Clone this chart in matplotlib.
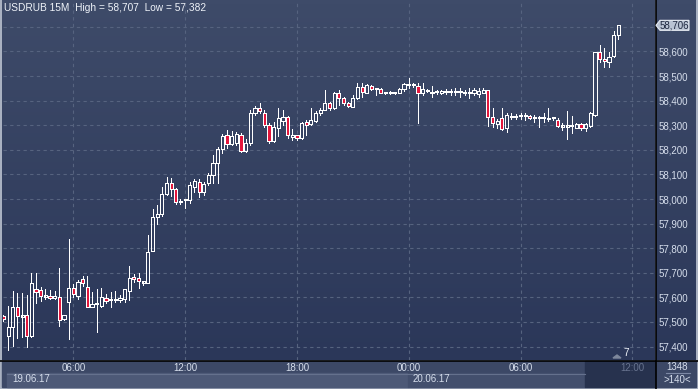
import matplotlib.pyplot as plt
import numpy as np
from matplotlib.patches import Rectangle, Polygon
from matplotlib.transforms import blended_transform_factory

plt.rcParams['font.family'] = ['Liberation Sans', 'DejaVu Sans']

titulo = 'USDRUB 15M  High = 58,707  Low = 57,382'

# velas de 15 minutos, desde 19.06.17 02:15 hasta 20.06.17 11:15
opens = [57.525, 57.444, 57.481, 57.560, 57.522, 57.527, 57.444, 57.633, 57.630, 57.603,
         57.604, 57.598, 57.600, 57.511, 57.580, 57.639, 57.607, 57.674, 57.641, 57.562,
         57.572, 57.566, 57.596, 57.588, 57.590, 57.588, 57.593, 57.626, 57.682, 57.679,
         57.660, 57.660, 57.790, 57.926, 57.938, 58.020, 58.064, 58.039, 57.988, 57.995,
         57.996, 58.050, 58.070, 58.030, 58.064, 58.098, 58.145, 58.202, 58.260, 58.224,
         58.226, 58.260, 58.195, 58.226, 58.351, 58.369, 58.351, 58.301, 58.237, 58.287,
         58.318, 58.332, 58.253, 58.260, 58.247, 58.312, 58.304, 58.318, 58.348, 58.362,
         58.391, 58.369, 58.430, 58.409, 58.391, 58.375, 58.409, 58.457, 58.432, 58.459,
         58.446, 58.446, 58.432, 58.432, 58.432, 58.432, 58.446, 58.463, 58.464, 58.459,
         58.432, 58.439, 58.436, 58.433, 58.430, 58.436, 58.436, 58.433, 58.433, 58.430,
         58.430, 58.432, 58.427, 58.432, 58.443, 58.335, 58.304, 58.328, 58.287, 58.334,
         58.334, 58.338, 58.337, 58.337, 58.328, 58.328, 58.328, 58.324, 58.328, 58.321,
         58.294, 58.294, 58.296, 58.290, 58.304, 58.287, 58.297, 58.341, 58.599, 58.568,
         58.558, 58.581, 58.667]
highs = [57.530, 57.565, 57.626, 57.618, 57.618, 57.610, 57.698, 57.698, 57.643, 57.633,
         57.630, 57.626, 57.720, 57.530, 57.837, 57.653, 57.671, 57.687, 57.687, 57.620,
         57.634, 57.637, 57.614, 57.620, 57.626, 57.610, 57.634, 57.728, 57.694, 57.700,
         57.668, 57.854, 57.958, 57.976, 58.049, 58.089, 58.085, 58.045, 57.998, 57.997,
         58.070, 58.080, 58.080, 58.070, 58.104, 58.179, 58.213, 58.264, 58.280, 58.276,
         58.274, 58.269, 58.243, 58.362, 58.378, 58.389, 58.362, 58.308, 58.314, 58.369,
         58.362, 58.336, 58.283, 58.262, 58.314, 58.321, 58.369, 58.356, 58.370, 58.443,
         58.395, 58.433, 58.443, 58.413, 58.393, 58.423, 58.470, 58.470, 58.466, 58.462,
         58.450, 58.450, 58.437, 58.440, 58.437, 58.450, 58.470, 58.491, 58.470, 58.470,
         58.470, 58.447, 58.459, 58.443, 58.445, 58.446, 58.446, 58.450, 58.450, 58.443,
         58.450, 58.450, 58.450, 58.450, 58.445, 58.369, 58.324, 58.369, 58.348, 58.348,
         58.346, 58.351, 58.351, 58.340, 58.341, 58.338, 58.351, 58.369, 58.334, 58.328,
         58.308, 58.359, 58.337, 58.311, 58.311, 58.310, 58.355, 58.598, 58.626, 58.612,
         58.599, 58.684, 58.707]
lows = [57.505, 57.386, 57.402, 57.435, 57.439, 57.400, 57.440, 57.576, 57.585, 57.592,
        57.593, 57.592, 57.484, 57.507, 57.432, 57.600, 57.593, 57.648, 57.560, 57.560,
        57.461, 57.562, 57.576, 57.562, 57.580, 57.580, 57.580, 57.589, 57.664, 57.640,
        57.652, 57.657, 57.788, 57.898, 57.930, 58.015, 58.012, 57.980, 57.980, 57.965,
        57.983, 58.030, 58.009, 58.016, 58.057, 58.064, 58.064, 58.186, 58.207, 58.220,
        58.220, 58.190, 58.190, 58.220, 58.341, 58.348, 58.294, 58.229, 58.233, 58.256,
        58.300, 58.247, 58.240, 58.240, 58.243, 58.260, 58.300, 58.315, 58.343, 58.360,
        58.360, 58.365, 58.382, 58.383, 58.375, 58.372, 58.405, 58.416, 58.430, 58.443,
        58.423, 58.430, 58.428, 58.425, 58.428, 58.430, 58.440, 58.450, 58.457, 58.308,
        58.423, 58.435, 58.416, 58.427, 58.427, 58.427, 58.423, 58.423, 58.416, 58.423,
        58.409, 58.423, 58.416, 58.430, 58.297, 58.294, 58.287, 58.280, 58.274, 58.324,
        58.324, 58.324, 58.320, 58.325, 58.314, 58.294, 58.314, 58.318, 58.320, 58.294,
        58.280, 58.243, 58.270, 58.287, 58.280, 58.275, 58.294, 58.338, 58.558, 58.538,
        58.538, 58.578, 58.649]
closes = [57.512, 57.478, 57.562, 57.526, 57.525, 57.444, 57.657, 57.621, 57.604, 57.605,
          57.598, 57.604, 57.508, 57.527, 57.637, 57.614, 57.661, 57.657, 57.562, 57.572,
          57.574, 57.600, 57.585, 57.592, 57.592, 57.598, 57.634, 57.678, 57.674, 57.667,
          57.662, 57.786, 57.926, 57.939, 58.020, 58.065, 58.039, 57.987, 57.990, 57.996,
          58.057, 58.073, 58.030, 58.061, 58.098, 58.145, 58.202, 58.257, 58.224, 58.256,
          58.264, 58.195, 58.226, 58.351, 58.369, 58.358, 58.301, 58.237, 58.293, 58.328,
          58.332, 58.260, 58.260, 58.247, 58.308, 58.301, 58.321, 58.351, 58.362, 58.389,
          58.369, 58.432, 58.409, 58.389, 58.378, 58.409, 58.457, 58.436, 58.463, 58.446,
          58.447, 58.432, 58.433, 58.433, 58.433, 58.446, 58.467, 58.464, 58.463, 58.432,
          58.446, 58.440, 58.430, 58.434, 58.440, 58.437, 58.437, 58.434, 58.434, 58.431,
          58.431, 58.443, 58.439, 58.443, 58.335, 58.308, 58.317, 58.283, 58.341, 58.336,
          58.336, 58.340, 58.338, 58.328, 58.329, 58.329, 58.329, 58.325, 58.329, 58.297,
          58.295, 58.295, 58.297, 58.304, 58.287, 58.305, 58.351, 58.596, 58.568, 58.562,
          58.578, 58.667, 58.706]

horas = [15, 39, 63, 87, 111, 135]
etiquetas_horas = ['06:00', '12:00', '18:00', '00:00', '06:00', '12:00']
niveles = [57.4, 57.5, 57.6, 57.7, 57.8, 57.9, 58.0, 58.1, 58.2, 58.3, 58.4, 58.5, 58.6, 58.7]
fechas = ['19.06.17', '20.06.17']
ultimo = 58.706
barras_total = '1348'
barras_vista = '>140<'

W, H = 698, 389
fig = plt.figure(figsize=(W / 100, H / 100), dpi=100)
fig.patch.set_facecolor('#a9b1c1')

# fondo en coordenadas de pixel
bg = fig.add_axes([0, 0, 1, 1])
bg.axis('off')


def gradiente(x0, x1, y0, y1, arriba, abajo):
    a = np.array(plt.matplotlib.colors.to_rgb(arriba))
    b = np.array(plt.matplotlib.colors.to_rgb(abajo))
    t = np.linspace(0, 1, 100)[:, None, None]
    img = a * (1 - t) + b * t
    bg.imshow(img, extent=(x0, x1, y1, y0), origin='upper', aspect='auto', zorder=0)


gradiente(2, 655, 0, 360, '#3e4b69', '#2b3759')
gradiente(656, 696, 0, 360, '#3e4b69', '#2b3759')
bg.add_patch(Rectangle((2, 361), 653, 26, color='#3c4866', zorder=1))
bg.add_patch(Rectangle((7, 373), 401, 14, color='#4d5977', zorder=2))
bg.add_patch(Rectangle((408, 373), 177, 14, color='#434f6d', zorder=2))
bg.add_patch(Rectangle((585, 361), 70, 26, color='#27324e', zorder=3))
bg.add_patch(Rectangle((656, 361), 40, 26, color='#3c4866', zorder=1))
bg.plot([7, 585], [373.5, 373.5], color='#65718d', lw=0.8, zorder=3)
bg.plot([655.5, 655.5], [0, 389], color='black', lw=1.2, zorder=4)
bg.plot([0, 698], [360.5, 360.5], color='black', lw=1.2, zorder=4)
bg.plot([666, 690], [373, 373], color='#7c88a4', lw=0.8, zorder=4)
bg.set_xlim(0, W)
bg.set_ylim(H, 0)

bg.text(677, 366.5, barras_total, color='#d6deec', fontsize=7, ha='center', va='center', zorder=5)
bg.text(677, 380, barras_vista, color='#d6deec', fontsize=7, ha='center', va='center', zorder=5)
bg.text(12, 379.5, fechas[0], color='#d6deec', fontsize=7, va='center', zorder=5)
bg.text(4, 8, titulo, color='#eef2f8', fontsize=7.3, va='center', zorder=5)
bg.text(626, 353, '7', color='#eef2f8', fontsize=7.3, ha='center', va='center', zorder=5)
bg.add_patch(Polygon([[613, 358], [617, 355], [621, 358]], color='#7d879c', zorder=5))

ax = fig.add_axes([3 / W, 29 / H, 652 / W, 360 / H])
ax.set_facecolor('none')
for s in ax.spines.values():
    s.set_visible(False)

o = np.array(opens)
h = np.array(highs)
l = np.array(lows)
c = np.array(closes)
x = np.arange(len(o))
arriba = np.maximum(o, c)
abajo = np.minimum(o, c)

# lineas de 1 pixel sin suavizado
ax.vlines(x, arriba, h, color='white', lw=0.72, zorder=3, antialiased=False)
ax.vlines(x, l, abajo, color='white', lw=0.72, zorder=3, antialiased=False)
alto = np.maximum(arriba - abajo, 0.005)
baja = c < o
ax.bar(x[~baja], alto[~baja], bottom=abajo[~baja], width=0.68, facecolor='none',
       edgecolor='white', linewidth=0.72, zorder=4, antialiased=False)
ax.bar(x[baja], alto[baja], bottom=abajo[baja], width=0.68, facecolor='#e3173d',
       edgecolor='white', linewidth=0.72, zorder=4, antialiased=False)

ax.set_xlim(-0.1, 139.87)
ax.set_ylim(57.3455, 58.809)

ax.set_yticks(niveles)
ax.set_yticklabels([f'{v:.3f}'.replace('.', ',') if v < 58.65 else '' for v in niveles])
ax.yaxis.tick_right()
ax.set_xticks(horas)
ax.set_xticklabels(etiquetas_horas)
ax.tick_params(axis='y', length=0, pad=2.5, labelsize=7, labelcolor='#d6deec')
ax.tick_params(axis='x', length=0, pad=2.5, labelsize=7, labelcolor='#d6deec')
ax.get_xticklabels()[-1].set_color('#67738f')
ax.grid(True, color='#56637f', ls=(0, (3, 3)), lw=0.8, zorder=1)

# etiqueta del ultimo precio
mezcla = blended_transform_factory(ax.transData, bg.transData)
ax.text(87.8, 379.5, fechas[1], transform=mezcla, color='#d6deec', fontsize=7, va='center')
yp = H - ax.transData.transform((0, ultimo))[1]
bg.add_patch(Polygon([[656, yp], [660, yp - 5], [689, yp - 5], [689, yp + 5], [660, yp + 5]],
                     facecolor='#b9c3d3', edgecolor='#e6ebf2', lw=0.8, zorder=5))
bg.text(660, yp, f'{ultimo:.3f}'.replace('.', ','), color='#1e2840', fontsize=7,
        va='center', zorder=6)

fig.savefig('out.png', dpi=100)
